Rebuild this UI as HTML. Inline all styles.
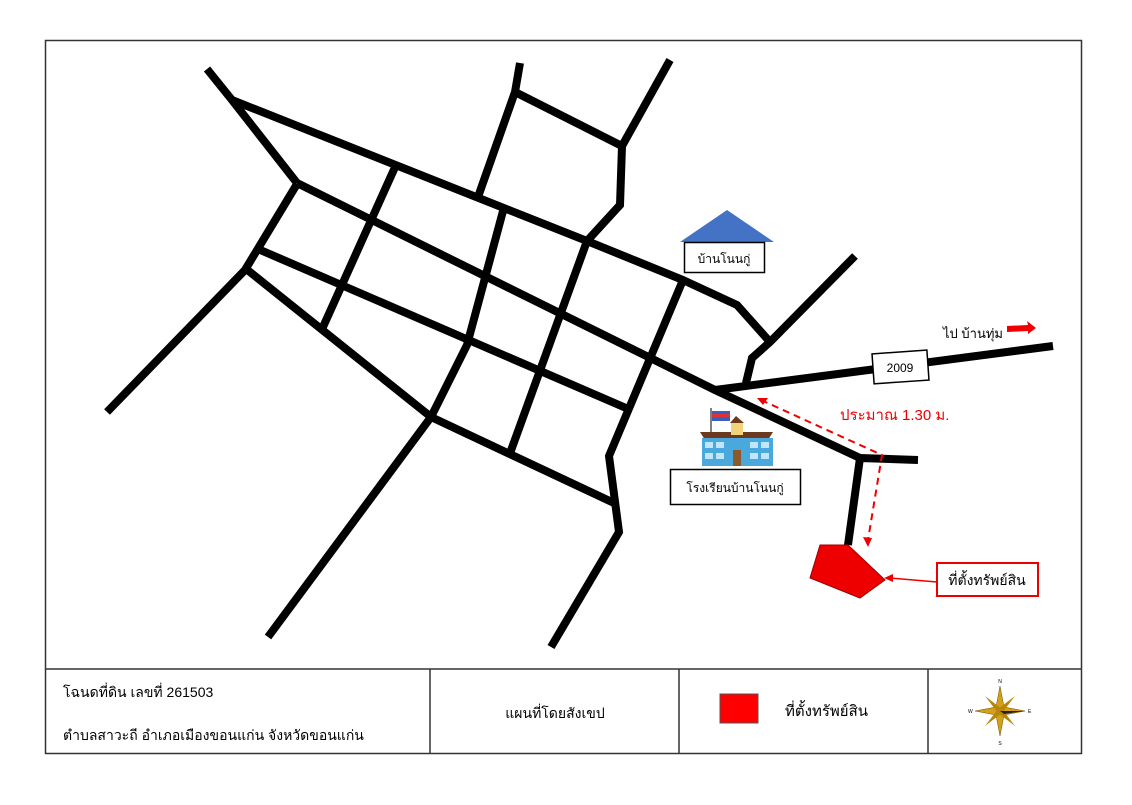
<!DOCTYPE html>
<html><head><meta charset="utf-8"><style>
body{margin:0;background:#fff;width:1132px;height:800px;overflow:hidden;font-family:"Liberation Sans","Noto Sans CJK SC",sans-serif}
</style></head><body>
<svg width="1132" height="800" viewBox="0 0 1132 800" xmlns="http://www.w3.org/2000/svg" font-family="Liberation Sans, Noto Sans CJK SC, sans-serif">
<rect x="45.5" y="40.5" width="1036" height="713" fill="none" stroke="#333" stroke-width="1.5"/>
<line x1="45" y1="669" x2="1081" y2="669" stroke="#333" stroke-width="1.5"/>
<line x1="430" y1="669" x2="430" y2="753" stroke="#333" stroke-width="1.5"/>
<line x1="679" y1="669" x2="679" y2="753" stroke="#333" stroke-width="1.5"/>
<line x1="928" y1="669" x2="928" y2="753" stroke="#333" stroke-width="1.5"/>
<g fill="none" stroke="#000" stroke-width="8" stroke-linejoin="miter">
<polyline points="207,69 232,100 297,183"/>
<polyline points="232,100 587,241 683,280 737,305 770,342"/>
<polyline points="297,183 715,390 860,458 918,460"/>
<polyline points="297,184 245,270 107,412"/>
<polyline points="258,249 626,408"/>
<polyline points="245,268 431,417 614,503"/>
<polyline points="431,417 268,637"/>
<polyline points="396,165 323,327"/>
<polyline points="520,63 515,92 478,197"/>
<polyline points="515,92 622,146 620,205 587,241"/>
<polyline points="622,146 670,60"/>
<polyline points="503,211 467,345 431,417"/>
<polyline points="587,241 509,456"/>
<polyline points="683,280 609,456 619,532 551,647"/>
<polyline points="855,256 770,342 752,358 746,383"/>
<polyline points="715,390 1053,346"/>
<polyline points="860,458 848,545"/>
</g>
<polygon points="820,545 848,545 885,580 860,598 810,578" fill="#e00" stroke="#900" stroke-width="1"/>
<g stroke="#e00" stroke-width="2" fill="none" stroke-dasharray="7,5">
<polyline points="761,400 882,455 868,540"/>
</g>
<polygon points="757,398 768,398 763,405" fill="#e00"/>
<polygon points="868,547 863,537 872,538" fill="#e00"/>
<line x1="937" y1="582" x2="890" y2="578" stroke="#e00" stroke-width="1.5"/>
<polygon points="884,578 893,574 893,582" fill="#e00"/>
<polygon points="727,210 680,242 774,242" fill="#4472c4"/>
<rect x="684.5" y="242.5" width="80" height="30" fill="#fff" stroke="#000" stroke-width="1.5"/>
<text x="724" y="263" font-size="12" text-anchor="middle">บ้านโนนกู่</text>
<rect x="873" y="352" width="55" height="30" fill="#fff" stroke="#000" stroke-width="1.5" transform="rotate(-4 900 367)"/>
<text x="900" y="372" font-size="12" text-anchor="middle">2009</text>
<text x="943" y="338" font-size="13">ไป บ้านทุ่ม</text>
<polygon points="1007,326 1028,325 1027,321 1036,328 1028,334 1028,331 1007,332" fill="#e00"/>
<text x="840" y="420" font-size="15" fill="#e00">ประมาณ 1.30 ม.</text>
<!-- school -->
<rect x="712" y="411" width="18" height="10" fill="#3b5fc0"/>
<rect x="712" y="414" width="18" height="3" fill="#d33"/>
<line x1="711" y1="408" x2="711" y2="438" stroke="#555" stroke-width="1.5"/>
<polygon points="700,432 773,432 768,440 705,440" fill="#6b3a1e"/>
<rect x="702" y="438" width="71" height="28" fill="#4aa8dc"/>
<g fill="#bfe6fa"><rect x="705" y="442" width="8" height="6"/><rect x="716" y="442" width="8" height="6"/><rect x="750" y="442" width="8" height="6"/><rect x="761" y="442" width="8" height="6"/><rect x="705" y="453" width="8" height="6"/><rect x="716" y="453" width="8" height="6"/><rect x="750" y="453" width="8" height="6"/><rect x="761" y="453" width="8" height="6"/></g>
<polygon points="730,423 736,416 744,423" fill="#6b3a1e"/>
<rect x="731" y="423" width="12" height="12" fill="#f2d27a"/>
<rect x="733" y="450" width="8" height="16" fill="#8b5a2b"/>
<rect x="670.5" y="469.5" width="130" height="35" fill="#fff" stroke="#000" stroke-width="1.5"/>
<text x="735" y="492" font-size="12" text-anchor="middle">โรงเรียนบ้านโนนกู่</text>
<rect x="937" y="563" width="101" height="33" fill="#fff" stroke="#e00" stroke-width="2"/>
<text x="987" y="585" font-size="14" text-anchor="middle">ที่ตั้งทรัพย์สิน</text>
<text x="63" y="697" font-size="14">โฉนดที่ดิน เลขที่ 261503</text>
<text x="63" y="740" font-size="14">ตำบลสาวะถี อำเภอเมืองขอนแก่น จังหวัดขอนแก่น</text>
<text x="555" y="718" font-size="14" text-anchor="middle">แผนที่โดยสังเขป</text>
<rect x="720" y="694" width="38" height="29" fill="#f00" stroke="#555" stroke-width="1"/>
<text x="785" y="716" font-size="15">ที่ตั้งทรัพย์สิน</text>
<g transform="translate(1000,711)">
<polygon points="0,-25 4,-4 25,0 4,4 0,25 -4,4 -25,0 -4,-4" fill="#d4a017" stroke="#6b5000" stroke-width="0.5"/>
<polygon points="-15,-15 2,-2 15,15 -2,2" fill="#b8860b"/>
<polygon points="15,-15 2,2 -15,15 -2,-2" fill="#b8860b"/>
<polygon points="0,0 25,0 4,3" fill="#222"/>
<text x="0" y="-28" font-size="5" text-anchor="middle">N</text>
<text x="0" y="34" font-size="5" text-anchor="middle">S</text>
<text x="-32" y="2" font-size="5">W</text>
<text x="28" y="2" font-size="5">E</text>
</g>
</svg>
</body></html>
